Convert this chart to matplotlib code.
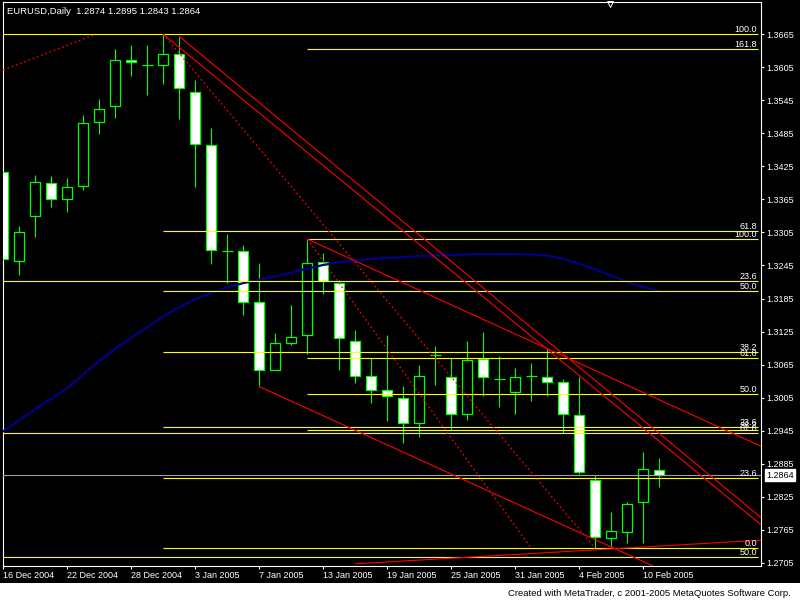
import numpy as np
import matplotlib.pyplot as plt
from matplotlib.patches import Rectangle

plt.rcParams['font.family'] = ['Liberation Sans', 'DejaVu Sans']

# daily EURUSD bars, 16 Dec 2004 .. 11 Feb 2005
opens = [1.3414, 1.3254, 1.3334, 1.3394, 1.3365, 1.3389, 1.3505, 1.3534, 1.3618, 1.3609,
         1.3609, 1.3630, 1.3561, 1.3463, 1.3272, 1.3271, 1.3178, 1.3056, 1.3105, 1.3118,
         1.3251, 1.3213, 1.3107, 1.3044, 1.3018, 1.3004, 1.2958, 1.3082, 1.3042, 1.2975,
         1.3075, 1.3038, 1.3015, 1.3044, 1.3042, 1.3033, 1.2973, 1.2855, 1.2750, 1.2761,
         1.2815, 1.2874]
highs = [1.3429, 1.3317, 1.3409, 1.3407, 1.3404, 1.3518, 1.3547, 1.3638, 1.3646, 1.3646,
         1.3665, 1.3661, 1.3582, 1.3495, 1.3302, 1.3282, 1.3250, 1.3122, 1.3173, 1.3293,
         1.3267, 1.3219, 1.3128, 1.3076, 1.3119, 1.3026, 1.3064, 1.3099, 1.3076, 1.3108,
         1.3124, 1.3081, 1.3059, 1.3068, 1.3095, 1.3038, 1.3043, 1.2864, 1.2797, 1.2815,
         1.2906, 1.2895]
lows = [1.3200, 1.3228, 1.3297, 1.3352, 1.3343, 1.3383, 1.3484, 1.3513, 1.3590, 1.3555,
        1.3575, 1.3512, 1.3387, 1.3248, 1.3214, 1.3155, 1.3025, 1.3055, 1.3101, 1.3084,
        1.3193, 1.3055, 1.3032, 1.2996, 1.2963, 1.2923, 1.2934, 1.3028, 1.2946, 1.2964,
        1.3008, 1.2987, 1.2976, 1.2999, 1.3008, 1.2940, 1.2866, 1.2731, 1.2734, 1.2740,
        1.2740, 1.2843]
closes = [1.3256, 1.3305, 1.3396, 1.3365, 1.3387, 1.3503, 1.3529, 1.3618, 1.3614, 1.3609,
          1.3629, 1.3567, 1.3465, 1.3273, 1.3272, 1.3178, 1.3055, 1.3104, 1.3115, 1.3249,
          1.3216, 1.3113, 1.3044, 1.3018, 1.3007, 1.2958, 1.3045, 1.3082, 1.2976, 1.3073,
          1.3042, 1.3038, 1.3042, 1.3044, 1.3033, 1.2976, 1.2869, 1.2752, 1.2762, 1.2811,
          1.2875, 1.2864]

# moving average
ma_values = [1.2944, 1.2964, 1.2984, 1.3003, 1.3022, 1.3047, 1.3072, 1.3094, 1.3114, 1.3133,
             1.3153, 1.3169, 1.3184, 1.3195, 1.3205, 1.3213, 1.3219, 1.3225, 1.3232, 1.3239,
             1.3246, 1.3251, 1.3254, 1.3257, 1.3259, 1.3260, 1.3262, 1.3263, 1.3264, 1.3265,
             1.3266, 1.3266, 1.3266, 1.3265, 1.3263, 1.3257, 1.3248, 1.3238, 1.3227, 1.3215,
             1.3206, 1.3198]

date_labels = ['16 Dec 2004', '22 Dec 2004', '28 Dec 2004', '3 Jan 2005', '7 Jan 2005',
               '13 Jan 2005', '19 Jan 2005', '25 Jan 2005', '31 Jan 2005', '4 Feb 2005',
               '10 Feb 2005']
price_ticks = [1.2705, 1.2765, 1.2825, 1.2885, 1.2945, 1.3005, 1.3065, 1.3125,
               1.3185, 1.3245, 1.3305, 1.3365, 1.3425, 1.3485, 1.3545, 1.3605, 1.3665]

# fibonacci levels: price, label, first bar
fib_prices = [1.3665, 1.3638, 1.3307, 1.3293, 1.3216, 1.3198, 1.3087, 1.3076, 1.3011,
              1.2951, 1.2946, 1.2940, 1.2859, 1.2731, 1.2715]
fib_labels = ['100.0', '161.8', '61.8', '100.0', '23.6', '50.0', '38.2', '61.8', '50.0',
              '23.6', '38.2', '61.8', '23.6', '0.0', '50.0']
fib_start = [-1, 19, 10, 19, -1, 10, 10, 19, 19, 10, 19, -1, 10, 10, -1]

# trend lines (bar, price) -> (bar, price)
solid_lines = [
    (10, 1.3665, 47.4, 1.2773),
    (11, 1.3661, 47.4, 1.2786),
    (19, 1.3293, 47.4, 1.2916),
    (16, 1.3025, 47.4, 1.2609),
    (22, 1.2703, 47.4, 1.2746),
]
dotted_lines = [
    (0, 1.3600, 5.75, 1.3665),
    (19, 1.3293, 33, 1.2731),
    (10, 1.3665, 37, 1.2731),
]

last_price = 1.2864

fig = plt.figure(figsize=(8, 6), dpi=100, facecolor='black')
fig.patches.append(Rectangle((0, 0), 1, 17 / 600, transform=fig.transFigure,
                             facecolor='white', edgecolor='none', zorder=0))

ax = fig.add_axes([3 / 800, 34 / 600, 758 / 800, 564 / 600])
ax.set_facecolor('black')
ax.set_xlim(-0.02, 47.36)
ax.set_ylim(1.2699, 1.37237)

x = np.arange(len(opens))
bull_c = '#00ff00'

# wicks
ax.vlines(x, lows, highs, color=bull_c, linewidth=0.8, zorder=2)
# bodies
for i in range(len(opens)):
    o, c = opens[i], closes[i]
    fill = 'black' if c > o else 'white'
    if o == c:
        ax.hlines(o, i - 0.33, i + 0.33, color=bull_c, linewidth=0.9, zorder=3)
    else:
        ax.add_patch(Rectangle((i - 0.31, min(o, c)), 0.62, abs(c - o),
                               facecolor=fill, edgecolor=bull_c, linewidth=0.9, zorder=3))

ax.plot(x, ma_values, color='#000088', linewidth=1.6, zorder=4)

# bid line
ax.axhline(last_price, color='#a0a0a0', linewidth=0.8, zorder=4)

# fibonacci levels
fib_end = 47.17
for p, lab, s in zip(fib_prices, fib_labels, fib_start):
    ax.hlines(p, s, fib_end, color='#ffff00', linewidth=0.8, zorder=5)
    ax.annotate(lab, xy=(fib_end - 0.05, p), xytext=(0, 1.6), textcoords='offset points',
                ha='right', va='baseline', color='white', fontsize=6.5, zorder=6)

for x0, y0, x1, y1 in solid_lines:
    ax.plot([x0, x1], [y0, y1], color='#ff0000', linewidth=0.8, zorder=5)
for x0, y0, x1, y1 in dotted_lines:
    ax.plot([x0, x1], [y0, y1], color='#ff0000', linewidth=0.9,
            linestyle=(0, (1.4, 2.2)), zorder=5)

# axes styling
for sp in ax.spines.values():
    sp.set_color('white')
    sp.set_linewidth(0.8)
ax.yaxis.tick_right()
ax.set_yticks(price_ticks)
ax.set_yticklabels(['%.4f' % v for v in price_ticks])
ax.set_xticks(np.arange(0, 41, 4))
ax.set_xticklabels(date_labels, ha='left')
ax.tick_params(axis='both', colors='white', labelsize=6.5, length=2.4, width=0.8)
ax.tick_params(axis='y', pad=1.5)
ax.tick_params(axis='x', pad=1.2)

ax.annotate('%.4f' % last_price, xy=(1.0, last_price), xycoords=ax.get_yaxis_transform(),
            xytext=(3.6, 0), textcoords='offset points', ha='left', va='center',
            color='black', fontsize=6.5,
            bbox=dict(boxstyle='square,pad=0.15', facecolor='white', edgecolor='white'))

# chart shift marker
ax.plot([37.9], [1.3720], marker='v', markersize=4, markerfacecolor='none',
        markeredgecolor='white', markeredgewidth=0.7, clip_on=False, zorder=7)

fig.text(7 / 800, 1 - 11 / 600, 'EURUSD,Daily  1.2874 1.2895 1.2843 1.2864',
         color='white', fontsize=6.8, ha='left', va='center')
fig.text(791 / 800, 1 - 593 / 600,
         'Created with MetaTrader, c 2001-2005 MetaQuotes Software Corp.',
         color='black', fontsize=6.8, ha='right', va='center')

fig.savefig('out.png', dpi=100, facecolor='black')
